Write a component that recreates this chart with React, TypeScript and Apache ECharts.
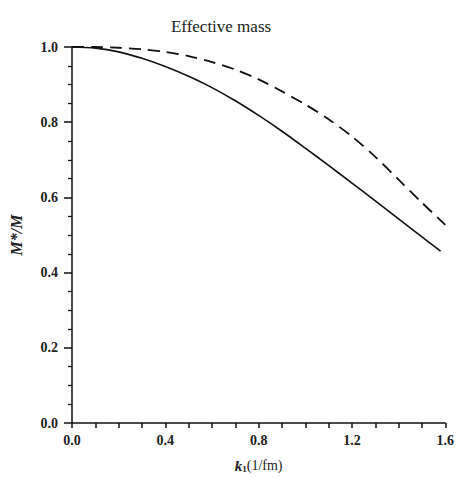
import React, { useEffect, useRef } from "react";
import * as echarts from "echarts";

const kSolid = [0, 0.1, 0.2, 0.3, 0.4, 0.5, 0.6, 0.7, 0.8, 0.9, 1.0, 1.1, 1.2, 1.3, 1.4, 1.5, 1.58];
const solidValues = [1.0, 0.997, 0.987, 0.97, 0.948, 0.922, 0.892, 0.857, 0.818, 0.776, 0.731, 0.685, 0.638, 0.591, 0.543, 0.495, 0.457];
const kDashed = [0, 0.1, 0.2, 0.3, 0.4, 0.5, 0.6, 0.7, 0.8, 0.9, 1.0, 1.1, 1.2, 1.3, 1.4, 1.5, 1.6];
const dashedValues = [1.0, 1.0, 0.998, 0.994, 0.987, 0.976, 0.96, 0.94, 0.914, 0.882, 0.847, 0.808, 0.762, 0.708, 0.647, 0.586, 0.527];

const FONT = "'Liberation Serif', 'DejaVu Serif', serif";

export default function App() {
  const ref = useRef<HTMLDivElement>(null);
  useEffect(() => {
    if (!ref.current) return;
    const chart = echarts.init(ref.current, undefined, { renderer: "svg" });
    const axisCommon = {
      axisLine: { show: true, lineStyle: { color: "#111", width: 1.5 } },
      splitLine: { show: false },
    };
    chart.setOption({
      animation: false,
      backgroundColor: "#fff",
      title: {
        text: "Effective mass",
        left: 216,
        top: 13,
        textAlign: "center",
        textStyle: { fontFamily: FONT, fontSize: 17, fontWeight: "normal", color: "#222" },
      },
      grid: { left: 70, right: 9, top: 47, bottom: 44 },
      xAxis: {
        type: "value",
        min: 0,
        max: 1.6,
        interval: 0.4,
        ...axisCommon,
        axisTick: { show: true, inside: false, length: 5, lineStyle: { color: "#111", width: 1.5 } },
        minorTick: { show: true, splitNumber: 4, length: 5, lineStyle: { color: "#111", width: 1.5 } },
        axisLabel: {
          fontFamily: FONT,
          fontSize: 14,
          fontWeight: "bold",
          color: "#222",
          margin: 10,
          formatter: (v: number) => v.toFixed(1),
        },
        name: "{k|k}{s|1}{n|(1/fm)}",
        nameLocation: "middle",
        nameGap: 35,
        nameTextStyle: {
          rich: {
            k: { fontFamily: FONT, fontSize: 15, fontStyle: "italic", fontWeight: "bold", color: "#222" },
            s: { fontFamily: FONT, fontSize: 9, fontWeight: "bold", color: "#222", verticalAlign: "bottom", padding: [6, 0, 0, 0] },
            n: { fontFamily: FONT, fontSize: 14, color: "#222" },
          },
        },
      },
      yAxis: {
        type: "value",
        min: 0,
        max: 1.0,
        interval: 0.2,
        ...axisCommon,
        axisTick: { show: true, inside: false, length: 8, lineStyle: { color: "#111", width: 1.5 } },
        minorTick: { show: true, splitNumber: 4, length: 4, lineStyle: { color: "#111", width: 1.3 } },
        axisLabel: {
          fontFamily: FONT,
          fontSize: 14,
          fontWeight: "bold",
          color: "#222",
          margin: 14,
          formatter: (v: number) => v.toFixed(1),
        },
        name: "M*/M",
        nameLocation: "middle",
        nameGap: 48,
        nameRotate: 90,
        nameTextStyle: {
          fontFamily: FONT,
          fontSize: 16,
          fontStyle: "italic",
          fontWeight: "bold",
          color: "#222",
        },
      },
      series: [
        {
          type: "line",
          data: kSolid.map((k, i) => [k, solidValues[i]]),
          smooth: 0.3,
          showSymbol: false,
          lineStyle: { color: "#111", width: 1.6 },
        },
        {
          type: "line",
          data: kDashed.map((k, i) => [k, dashedValues[i]]),
          smooth: 0.3,
          showSymbol: false,
          lineStyle: { color: "#111", width: 1.8, type: [12, 7] },
        },
      ],
    });
    return () => chart.dispose();
  }, []);
  return (
    <div
      ref={ref}
      style={{ position: "absolute", left: 0, top: 0, width: 457, height: 478 }}
    />
  );
}
